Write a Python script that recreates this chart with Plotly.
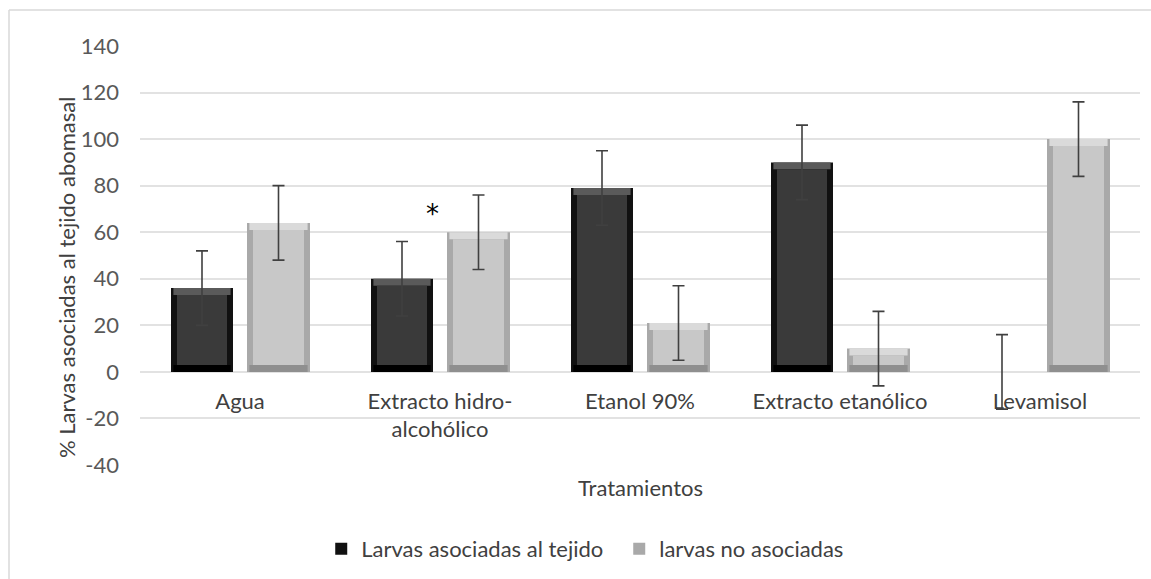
import plotly.graph_objects as go

categories = ["Agua", "Extracto hidro-<br>alcohólico", "Etanol 90%", "Extracto etanólico", "Levamisol"]
asociadas = [36, 40, 79, 90, 0]
no_asociadas = [64, 60, 21, 10, 100]
err_asociadas = [16, 16, 16, 16, 16]
err_no_asociadas = [16, 16, 16, 16, 16]
series_names = ["Larvas asociadas al tejido", "larvas no asociadas"]
y_ticks = [-40, -20, 0, 20, 40, 60, 80, 100, 120, 140]
y_ticktext = ["-40", "-20", "0", "20", "40", "60", "80", "100", "120", "140"]

FONT = "Lato"
FS = 22
bev_y = 3.0      # bevel depth in data units
bev_x = 0.03     # bevel width in category units

fig = go.Figure()

def add_series(vals, errs, name, offset, width, side, top, bottom, face):
    fig.add_trace(go.Bar(x=categories, y=vals, name=name, offset=offset, width=width,
                         marker=dict(color=side, line=dict(width=0)), showlegend=True,
                         hoverinfo="skip"))
    tb = [min(v, bev_y) for v in vals]
    fig.add_trace(go.Bar(x=categories, y=tb, base=[v - t for v, t in zip(vals, tb)],
                         offset=offset + bev_x * 0.4, width=width - bev_x * 0.8,
                         marker=dict(color=top, line=dict(width=0)), showlegend=False,
                         hoverinfo="skip"))
    fig.add_trace(go.Bar(x=categories, y=[min(v, bev_y) for v in vals], base=[0] * len(vals),
                         offset=offset + bev_x * 0.4, width=width - bev_x * 0.8,
                         marker=dict(color=bottom, line=dict(width=0)), showlegend=False,
                         hoverinfo="skip"))
    fh = [max(v - 2 * bev_y, 0) for v in vals]
    fig.add_trace(go.Bar(x=categories, y=fh, base=[bev_y] * len(vals),
                         offset=offset + bev_x, width=width - 2 * bev_x,
                         marker=dict(color=face, line=dict(width=0)), showlegend=False,
                         hoverinfo="skip"))
    fig.add_trace(go.Bar(x=categories, y=vals, offset=offset, width=width,
                         marker=dict(color="rgba(0,0,0,0)", line=dict(width=0)),
                         error_y=dict(type="data", array=errs, visible=True,
                                      color="#404040", thickness=1.6, width=6),
                         showlegend=False, hoverinfo="skip"))

add_series(asociadas, err_asociadas, series_names[0], -0.345, 0.31,
           "#111111", "#5a5a5a", "#000000", "#3a3a3a")
add_series(no_asociadas, err_no_asociadas, series_names[1], 0.035, 0.315,
           "#a9a9a9", "#dadada", "#8f8f8f", "#c8c8c8")

y_min, y_max = y_ticks[0], y_ticks[-1]
zero_frac = (0 - y_min) / (y_max - y_min)

fig.update_layout(
    width=1151, height=579,
    margin=dict(l=140, r=11, t=46, b=114, autoexpand=False),
    paper_bgcolor="white", plot_bgcolor="white",
    barmode="overlay",
    font=dict(family=FONT, size=FS, color="#404040"),
    showlegend=True,
    legend=dict(orientation="h", xref="container", yref="container",
                x=0.538, y=0.052, xanchor="center", yanchor="middle",
                font=dict(size=FS, color="#404040"), traceorder="normal",
                itemwidth=30, entrywidthmode="pixels", entrywidth=253),
    xaxis=dict(range=[-0.5, 4.5], anchor="free", position=zero_frac, automargin=False,
               showgrid=False, showline=False, ticks="", zeroline=False,
               tickfont=dict(size=FS, color="#404040"), ticklabelstandoff=14,
               fixedrange=True),
    yaxis=dict(range=[y_min, y_max], tickvals=y_ticks, ticktext=y_ticktext, showgrid=True,
               gridcolor="#e2e2e2", gridwidth=1.5, zeroline=True, automargin=False,
               zerolinecolor="#e2e2e2", zerolinewidth=1.5, showline=False,
               ticks="", ticklabelstandoff=20, fixedrange=True,
               tickfont=dict(size=FS, color="#595959")),
    annotations=[
        dict(text="% Larvas asociadas al tejido abomasal", xref="paper", yref="paper",
             x=(66 - 140) / 1000, y=(465 - 278) / 419, textangle=-90, showarrow=False,
             xanchor="center", yanchor="middle", font=dict(size=FS, color="#404040")),
        dict(text="Tratamientos", xref="paper", yref="paper", x=0.5, y=(465 - 487) / 419,
             showarrow=False, xanchor="center", yanchor="middle",
             font=dict(size=FS, color="#404040")),
        dict(text="*", xref="x", yref="y", x=categories[1], y=68, xshift=-8,
             showarrow=False, font=dict(family="DejaVu Sans", size=26, color="#000000")),
    ],
    shapes=[
        dict(type="line", xref="paper", yref="paper", x0=(9 - 140) / 1000, x1=(9 - 140) / 1000,
             y0=(465 - 10) / 419, y1=(465 - 600) / 419, line=dict(color="#d9d9d9", width=1.5)),
        dict(type="line", xref="paper", yref="paper", x0=(9 - 140) / 1000, x1=(1160 - 140) / 1000,
             y0=(465 - 10) / 419, y1=(465 - 10) / 419, line=dict(color="#d9d9d9", width=1.5)),
    ],
)

fig.write_html("out.html", config={"displayModeBar": False},
               post_script="document.body.style.margin='0';")
